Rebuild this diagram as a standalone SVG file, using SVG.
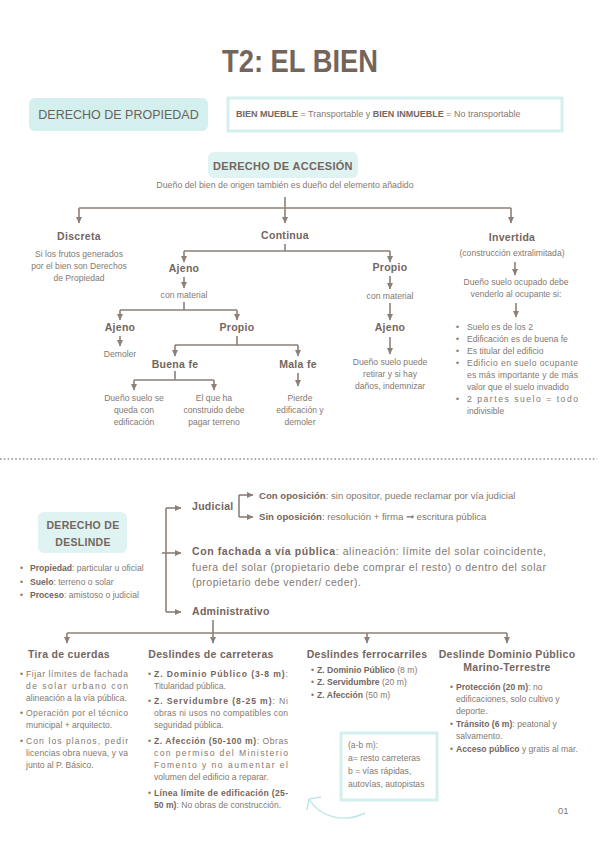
<svg xmlns="http://www.w3.org/2000/svg" width="600" height="848" viewBox="0 0 600 848">
<defs>
<style>
text{font-family:"Liberation Sans","Open Sans",Arial,sans-serif;fill:#85796f}
.title{font-size:31px;font-weight:bold;fill:#74655c;text-anchor:middle}
.h{font-size:10.5px;font-weight:bold;fill:#74665e;letter-spacing:0.3px}
.hc{font-size:10.5px;font-weight:bold;fill:#74665e;letter-spacing:0.3px;text-anchor:middle}
.s{font-size:8.6px}
.sc{font-size:8.6px;text-anchor:middle}
.m{font-size:9.6px}
.b{font-weight:bold;fill:#74665e}
.c{stroke:#8d8078;stroke-width:1.6;fill:none}
.ca{stroke:#8d8078;stroke-width:1.6;fill:none;marker-end:url(#ah)}
.box{fill:#d3efee}
.frame{fill:#fff;stroke:#d3efee;stroke-width:3}
</style>
<marker id="ah" markerUnits="userSpaceOnUse" markerWidth="7" markerHeight="7" refX="6" refY="3.5" orient="auto">
<path d="M0,0.5 L6.5,3.5 L0,6.5 z" fill="#8d8078"/>
</marker>
</defs>
<rect width="600" height="848" fill="#fff"/>

<g id="title"><text class="title" x="300" y="72" textLength="156" lengthAdjust="spacingAndGlyphs">T2: EL BIEN</text></g>

<g id="propiedad">
<rect class="box" x="29" y="98" width="179" height="33" rx="6"/>
<text x="118.5" y="119" text-anchor="middle" style="font-size:12.5px;fill:#6e625a">DERECHO DE PROPIEDAD</text>
</g>
<g id="bienes">
<rect class="frame" x="228" y="98" width="334" height="33"/>
<text class="s" x="236" y="117" style="font-size:9px"><tspan class="b">BIEN MUEBLE</tspan> = Transportable y <tspan class="b">BIEN INMUEBLE</tspan> = No transportable</text>
</g>

<g id="accesion">
<rect class="box" x="208" y="152" width="150" height="26" rx="6" style="fill:#dff3f2"/>
<text class="hc" x="283" y="170" style="font-size:11px">DERECHO DE ACCESIÓN</text>
<text class="sc" x="285" y="188" style="font-size:8.8px">Dueño del bien de origen también es dueño del elemento añadido</text>
</g>

<g id="connectors">
<path class="ca" d="M285 197 V223"/>
<path class="c" d="M79 208 H511"/>
<path class="ca" d="M79 208 V223"/>
<path class="ca" d="M511 208 V223"/>
<path class="c" d="M285 244 V251 M184 251 H390"/>
<path class="ca" d="M184 251 V262"/>
<path class="ca" d="M390 251 V262"/>
<path class="ca" d="M184 277 V288"/>
<path class="c" d="M184 302 V310 M120 310 H237"/>
<path class="ca" d="M120 310 V320"/>
<path class="ca" d="M237 310 V320"/>
<path class="ca" d="M120 336 V346"/>
<path class="c" d="M237 336 V345 M175 345 H298"/>
<path class="ca" d="M175 345 V356"/>
<path class="ca" d="M298 345 V356"/>
<path class="c" d="M175 371 V380 M134 380 H214"/>
<path class="ca" d="M134 380 V390"/>
<path class="ca" d="M214 380 V390"/>
<path class="ca" d="M298 373 V386"/>
<path class="ca" d="M390 276 V289"/>
<path class="ca" d="M390 303 V320"/>
<path class="ca" d="M390 337 V354"/>
<path class="ca" d="M515 262 V275"/>
<path class="ca" d="M516 303 V317"/>
<path class="c" d="M166 508 V612"/>
<path class="ca" d="M166 508 H181"/>
<path class="ca" d="M162 553 H181"/>
<path class="ca" d="M166 612 H181"/>
<path class="c" d="M239 495 V517"/>
<path class="ca" d="M239 495 H253"/>
<path class="ca" d="M239 517 H253"/>
<path class="ca" d="M213 620 V643"/>
<path class="c" d="M67 633 H507"/>
<path class="ca" d="M67 633 V643"/>
<path class="ca" d="M367 633 V643"/>
<path class="ca" d="M507 633 V643"/>
</g>

<g id="discreta">
<text class="hc" x="79" y="240">Discreta</text>
<text class="sc" x="79" y="257">Si los frutos generados</text>
<text class="sc" x="79" y="269">por el bien son Derechos</text>
<text class="sc" x="79" y="281">de Propiedad</text>
</g>
<g id="continua"><text class="hc" x="285" y="239">Continua</text></g>
<g id="ajeno1">
<text class="hc" x="184" y="272">Ajeno</text>
<text class="sc" x="184" y="298">con material</text>
</g>
<g id="ajeno2">
<text class="hc" x="120" y="331">Ajeno</text>
<text class="sc" x="120" y="357">Demoler</text>
</g>
<g id="propio1"><text class="hc" x="237" y="331">Propio</text></g>
<g id="buenafe">
<text class="hc" x="175" y="368">Buena fe</text>
<text class="sc" x="134" y="401">Dueño suelo se</text>
<text class="sc" x="134" y="413">queda con</text>
<text class="sc" x="134" y="425">edificación</text>
<text class="sc" x="214" y="401">El que ha</text>
<text class="sc" x="214" y="413">construido debe</text>
<text class="sc" x="214" y="425">pagar terreno</text>
</g>
<g id="malafe">
<text class="hc" x="298" y="368">Mala fe</text>
<text class="sc" x="300" y="401">Pierde</text>
<text class="sc" x="300" y="413">edificación y</text>
<text class="sc" x="300" y="425">demoler</text>
</g>
<g id="propio2">
<text class="hc" x="390" y="271">Propio</text>
<text class="sc" x="390" y="299">con material</text>
<text class="hc" x="390" y="331">Ajeno</text>
<text class="sc" x="390" y="365">Dueño suelo puede</text>
<text class="sc" x="390" y="377">retirar y si hay</text>
<text class="sc" x="390" y="389">daños, indemnizar</text>
</g>
<g id="invertida">
<text class="hc" x="512" y="241">Invertida</text>
<text class="sc" x="512" y="256">(construcción extralimitada)</text>
<text class="sc" x="516" y="285">Dueño suelo ocupado debe</text>
<text class="sc" x="516" y="297">venderlo al ocupante si:</text>
<g class="s">
<text class="s" x="456" y="330">•</text><text class="s" x="467" y="330">Suelo es de los 2</text>
<text class="s" x="456" y="342">•</text><text class="s" x="467" y="342">Edificación es de buena fe</text>
<text class="s" x="456" y="354">•</text><text class="s" x="467" y="354">Es titular del edificio</text>
<text class="s" x="456" y="366">•</text><text class="s" x="467" y="366" textLength="111" lengthAdjust="spacing">Edificio en suelo ocupante</text>
<text class="s" x="467" y="378" textLength="111" lengthAdjust="spacing">es más importante y de más</text>
<text class="s" x="467" y="390">valor que el suelo invadido</text>
<text class="s" x="456" y="402">•</text><text class="s" x="467" y="402" textLength="111" lengthAdjust="spacing">2 partes suelo = todo</text>
<text class="s" x="467" y="414">indivisible</text>
</g>
</g>

<line x1="0" y1="459" x2="597" y2="459" stroke="#9a8f88" stroke-width="1.6" stroke-dasharray="1.6 2.2"/>

<g id="deslinde">
<rect class="box" x="38" y="512" width="89" height="41" rx="6" style="fill:#dff3f2"/>
<text class="hc" x="83" y="529">DERECHO DE</text>
<text class="hc" x="83" y="546">DESLINDE</text>
<text class="s" x="20" y="571">•</text><text class="s" x="30" y="571"><tspan class="b">Propiedad</tspan>: particular u oficial</text>
<text class="s" x="20" y="585">•</text><text class="s" x="30" y="585"><tspan class="b">Suelo</tspan>: terreno o solar</text>
<text class="s" x="20" y="598">•</text><text class="s" x="30" y="598"><tspan class="b">Proceso</tspan>: amistoso o judicial</text>
</g>
<g id="judicial">
<text class="h" x="192" y="510">Judicial</text>
<text class="m" x="259" y="499"><tspan class="b">Con oposición</tspan>: sin opositor, puede reclamar por vía judicial</text>
<text class="m" x="259" y="520"><tspan class="b">Sin oposición</tspan>: resolución + firma ➞ escritura pública</text>
</g>
<g id="fachada">
<text x="192" y="555" style="font-size:10.5px" textLength="354" lengthAdjust="spacing"><tspan class="b">Con fachada a vía pública</tspan>: alineación: límite del solar coincidente,</text>
<text x="192" y="571" style="font-size:10.5px" textLength="354" lengthAdjust="spacing">fuera del solar (propietario debe comprar el resto) o dentro del solar</text>
<text x="192" y="586" style="font-size:10.5px;letter-spacing:0.5px">(propietario debe vender/ ceder).</text>
</g>
<g id="administrativo"><text class="h" x="192" y="615">Administrativo</text></g>

<g id="tira">
<text class="hc" x="69" y="658">Tira de cuerdas</text>
<text class="s" x="20" y="677">•</text><text class="s" x="26" y="677" textLength="102" lengthAdjust="spacing">Fijar límites de fachada</text>
<text class="s" x="26" y="689" textLength="102" lengthAdjust="spacing">de solar urbano con</text>
<text class="s" x="26" y="701">alineación a la vía pública.</text>
<text class="s" x="20" y="716">•</text><text class="s" x="26" y="716" textLength="102" lengthAdjust="spacing">Operación por el técnico</text>
<text class="s" x="26" y="728">municipal + arquitecto.</text>
<text class="s" x="20" y="744">•</text><text class="s" x="26" y="744" textLength="102" lengthAdjust="spacing">Con los planos, pedir</text>
<text class="s" x="26" y="756" textLength="102" lengthAdjust="spacing">licencias obra nueva, y va</text>
<text class="s" x="26" y="768">junto al P. Básico.</text>
</g>

<g id="carreteras">
<text class="hc" x="211" y="658">Deslindes de carreteras</text>
<text class="s" x="148" y="677">•</text><text class="s" x="154" y="677" textLength="134" lengthAdjust="spacing"><tspan class="b">Z. Dominio Público (3-8 m)</tspan>:</text>
<text class="s" x="154" y="689">Titularidad pública.</text>
<text class="s" x="148" y="704">•</text><text class="s" x="154" y="704" textLength="134" lengthAdjust="spacing"><tspan class="b">Z. Servidumbre (8-25 m)</tspan>: Ni</text>
<text class="s" x="154" y="716" textLength="134" lengthAdjust="spacing">obras ni usos no compatibles con</text>
<text class="s" x="154" y="728">seguridad pública.</text>
<text class="s" x="148" y="744">•</text><text class="s" x="154" y="744" textLength="134" lengthAdjust="spacing"><tspan class="b">Z. Afección (50-100 m)</tspan>: Obras</text>
<text class="s" x="154" y="756" textLength="134" lengthAdjust="spacing">con permiso del Ministerio</text>
<text class="s" x="154" y="768" textLength="134" lengthAdjust="spacing">Fomento y no aumentar el</text>
<text class="s" x="154" y="780">volumen del edificio a reparar.</text>
<text class="s" x="148" y="796">•</text><text class="s" x="154" y="796" textLength="134" lengthAdjust="spacing"><tspan class="b">Línea límite de edificación (25-</tspan></text>
<text class="s" x="154" y="808"><tspan class="b">50 m)</tspan>: No obras de construcción.</text>
</g>

<g id="ferrocarriles">
<text class="hc" x="367" y="658">Deslindes ferrocarriles</text>
<text class="s" x="311" y="673">•</text><text class="s" x="317" y="673"><tspan class="b">Z. Dominio Público</tspan> (8 m)</text>
<text class="s" x="311" y="685">•</text><text class="s" x="317" y="685"><tspan class="b">Z. Servidumbre</tspan> (20 m)</text>
<text class="s" x="311" y="698">•</text><text class="s" x="317" y="698"><tspan class="b">Z. Afección</tspan> (50 m)</text>
</g>

<g id="marino">
<text class="hc" x="507" y="658">Deslinde Dominio Público</text>
<text class="hc" x="507" y="671">Marino-Terrestre</text>
<text class="s" x="450" y="690">•</text><text class="s" x="456" y="690"><tspan class="b">Protección (20 m)</tspan>: no</text>
<text class="s" x="456" y="702">edificaciones, solo cultivo y</text>
<text class="s" x="456" y="714">deporte.</text>
<text class="s" x="450" y="727">•</text><text class="s" x="456" y="727"><tspan class="b">Tránsito (6 m)</tspan>: peatonal y</text>
<text class="s" x="456" y="739">salvamento.</text>
<text class="s" x="450" y="752">•</text><text class="s" x="456" y="752"><tspan class="b">Acceso público</tspan> y gratis al mar.</text>
</g>

<g id="nota">
<rect class="frame" x="341" y="733" width="96" height="67"/>
<text class="s" x="348" y="748">(a-b m):</text>
<text class="s" x="348" y="761">a= resto carreteras</text>
<text class="s" x="348" y="774">b = vías rápidas,</text>
<text class="s" x="348" y="787">autovías, autopistas</text>
<path d="M365 813 C345 823 320 818 309 799 M309 799 L321 797 M309 799 L307 810" fill="none" stroke="#bfe6e6" stroke-width="1.4"/>
</g>

<g id="page"><text x="558" y="814" style="font-size:9.5px">01</text></g>
</svg>
